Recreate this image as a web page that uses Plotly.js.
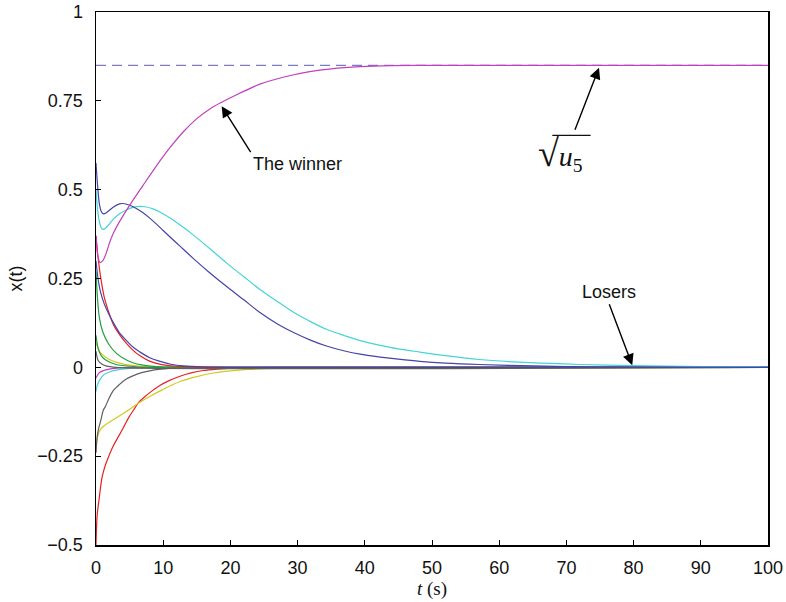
<!DOCTYPE html>
<html>
<head>
<meta charset="utf-8">
<script src="https://cdn.plot.ly/plotly-3.0.1.min.js"></script>
<style>html,body{margin:0;padding:0;background:#fff;}#chart{width:786px;height:602px;}</style>
</head>
<body>
<div id="chart"></div>
<script>
// ---- data ----
const tWinner = [0, 0.3, 0.6, 1, 1.5, 2, 2.6, 3.5, 5, 7, 9, 11, 13, 15, 17, 18.7, 21, 24.4, 28, 31.8, 35, 39.3, 44, 50, 60, 100];
const xWinner = [0.37, 0.31, 0.295, 0.30, 0.32, 0.35, 0.378, 0.41, 0.456, 0.512, 0.567, 0.618, 0.663, 0.70, 0.728, 0.746, 0.768, 0.797, 0.817, 0.832, 0.84, 0.846, 0.849, 0.85, 0.85, 0.85];

const tBlue = [0, 0.2, 0.5, 0.8, 1.1, 1.6, 2.5, 3.5, 4, 5, 6, 7, 8, 9, 10, 11.3, 12.5, 14.5, 17, 19.4, 22, 24.4, 27, 29.4, 32, 34.3, 37, 39.3, 42.3, 45, 48.2, 52, 57, 65, 75, 85, 100];
const xBlue = [0.575, 0.52, 0.46, 0.438, 0.432, 0.436, 0.45, 0.46, 0.461, 0.456, 0.447, 0.435, 0.42, 0.403, 0.385, 0.362, 0.341, 0.306, 0.265, 0.228, 0.19, 0.154, 0.122, 0.098, 0.076, 0.060, 0.046, 0.037, 0.029, 0.023, 0.017, 0.012, 0.008, 0.004, 0.001, 0.0005, 0];

const tCyan = [0, 0.2, 0.5, 0.8, 1.1, 1.6, 2.5, 3.5, 4.5, 5.5, 6.5, 7.3, 8.5, 9.5, 11.3, 13, 14.5, 17, 19.4, 22, 24.4, 27, 29.4, 32, 34.3, 37, 39.3, 42.3, 45, 48.2, 52, 57, 64.6, 72, 79.5, 90, 100];
const xCyan = [0.50, 0.45, 0.41, 0.392, 0.388, 0.395, 0.415, 0.432, 0.443, 0.45, 0.453, 0.452, 0.446, 0.437, 0.417, 0.394, 0.372, 0.333, 0.294, 0.255, 0.219, 0.185, 0.155, 0.128, 0.107, 0.089, 0.075, 0.062, 0.052, 0.043, 0.033, 0.022, 0.013, 0.008, 0.005, 0.002, 0.001];

const tRedUp = [0, 0.3, 0.64, 1.2, 1.9, 2.6, 3.4, 4.4, 5.4, 6.5, 7.8, 9, 10.8, 13, 16, 20, 100];
const xRedUp = [0.37, 0.31, 0.26, 0.20, 0.155, 0.12, 0.095, 0.07, 0.05, 0.033, 0.019, 0.011, 0.005, 0.002, 0.0005, 0, 0];

const tBlueUp = [0, 0.3, 0.7, 1.2, 1.9, 2.6, 3.4, 4.4, 5.5, 6.8, 8, 9.3, 11.3, 13, 16, 20, 100];
const xBlueUp = [0.30, 0.25, 0.21, 0.18, 0.15, 0.125, 0.10, 0.078, 0.057, 0.04, 0.027, 0.018, 0.008, 0.004, 0.001, 0, 0];

const tGreenA = [0, 0.2, 0.5, 1, 1.9, 3, 4.4, 5.5, 6.8, 9, 12, 100];
const xGreenA = [0.27, 0.20, 0.14, 0.10, 0.065, 0.04, 0.022, 0.013, 0.007, 0.002, 0, 0];

const tGreenB = [0, 0.3, 0.8, 1.5, 3, 5, 8, 100];
const xGreenB = [0.09, 0.055, 0.032, 0.02, 0.008, 0.003, 0, 0];

const tYellowUp = [0, 0.5, 1, 2, 3.5, 5, 8, 100];
const xYellowUp = [0.07, 0.045, 0.035, 0.022, 0.012, 0.006, 0.001, 0];

const tGrayUp = [0, 0.3, 0.8, 1.5, 3, 100];
const xGrayUp = [0.045, 0.02, 0.01, 0.004, 0, 0];

const tMagentaLo = [0, 0.5, 1, 2, 4, 6, 100];
const xMagentaLo = [-0.03, -0.015, -0.01, -0.005, -0.001, 0, 0];

const tCyanLo = [0, 0.2, 0.6, 1.2, 2, 3, 5, 8, 100];
const xCyanLo = [-0.068, -0.05, -0.034, -0.02, -0.013, -0.008, -0.003, 0, 0];

const tGrayLo = [0, 0.15, 0.35, 0.64, 1.1, 1.4, 2, 2.6, 3.5, 4.4, 5.5, 6.8, 8, 9.3, 11, 14, 18, 100];
const xGrayLo = [-0.24, -0.2, -0.175, -0.155, -0.12, -0.11, -0.085, -0.065, -0.048, -0.034, -0.024, -0.015, -0.01, -0.006, -0.003, -0.001, 0, 0];

const tYellowLo = [0, 0.1, 0.4, 0.85, 1.5, 2.6, 3.8, 5, 6.3, 8, 10, 12.5, 15, 17.5, 20, 22.5, 25, 30, 35, 45, 100];
const xYellowLo = [-0.24, -0.21, -0.185, -0.17, -0.16, -0.147, -0.133, -0.118, -0.101, -0.082, -0.062, -0.04, -0.026, -0.016, -0.010, -0.006, -0.004, -0.0015, -0.0005, 0, 0];

const tRedLo = [0, 0.1, 0.2, 0.4, 0.9, 1.4, 1.9, 2.6, 3.4, 4.2, 4.9, 5.6, 6.3, 7.3, 8.3, 9.5, 10.8, 12.5, 14.3, 16, 18, 20, 23, 28, 100];
const xRedLo = [-0.5, -0.44, -0.41, -0.38, -0.31, -0.275, -0.25, -0.22, -0.193, -0.165, -0.14, -0.12, -0.1, -0.082, -0.067, -0.051, -0.038, -0.025, -0.015, -0.009, -0.005, -0.002, -0.0005, 0, 0];

const tLimit = [0, 100];
const xLimit = [0.85, 0.85];

const yTickVals = [-0.5, -0.25, 0, 0.25, 0.5, 0.75, 1];
const yTickText = ['\u22120.5', '\u22120.25', '0', '0.25', '0.5', '0.75', '1'];
const xTickVals = [0, 10, 20, 30, 40, 50, 60, 70, 80, 90, 100];

// ---- colours ----
const C = {
  magenta: '#c040c0', blue: '#4444aa', cyan: '#44d4d4', red: '#e82020',
  green: '#20a040', yellow: '#d4c820', gray: '#606060', dash: '#5a5ab4'
};

function line(t, x, color, extra) {
  return Object.assign({
    x: t, y: x, type: 'scatter', mode: 'lines', hoverinfo: 'skip',
    line: {color: color, width: 1.2, shape: 'spline', smoothing: 0.8}
  }, extra || {});
}

const traces = [
  line(tLimit, xLimit, C.dash, {line: {color: C.dash, width: 1, dash: '10px,6px'}}),
  line(tRedLo, xRedLo, C.red),
  line(tYellowLo, xYellowLo, C.yellow),
  line(tGrayLo, xGrayLo, C.gray),
  line(tCyanLo, xCyanLo, C.cyan),
  line(tMagentaLo, xMagentaLo, C.magenta),
  line(tYellowUp, xYellowUp, C.yellow),
  line(tGreenB, xGreenB, C.green),
  line(tGreenA, xGreenA, C.green),
  line(tRedUp, xRedUp, C.red),
  line(tBlueUp, xBlueUp, C.blue),
  line(tGrayUp, xGrayUp, C.gray),
  line(tCyan, xCyan, C.cyan),
  line(tBlue, xBlue, C.blue),
  line(tWinner, xWinner, C.magenta)
];

const font = {family: '"Liberation Sans", Arial, Helvetica, sans-serif', size: 18, color: '#111'};
const serif = {family: '"Liberation Serif", "Times New Roman", serif', size: 28, color: '#111'};
const arrow = {showarrow: true, arrowhead: 2, arrowsize: 1.6, arrowwidth: 1.4, arrowcolor: '#000', xref: 'x', yref: 'y'};

const layout = {
  width: 786, height: 602,
  margin: {l: 96, r: 18, t: 12, b: 57, pad: 0},
  paper_bgcolor: '#fff', plot_bgcolor: '#fff',
  showlegend: false,
  font: font,
  xaxis: {
    range: [0, 100], tickvals: xTickVals, ticks: 'inside', ticklen: 5, tickwidth: 1, tickcolor: '#000',
    showline: true, linecolor: '#000', linewidth: 1.5, mirror: true, showgrid: false, zeroline: false,
    ticklabelstandoff: 6,
    title: {text: '<i>t</i> (s)', font: {family: '"Liberation Serif", "Times New Roman", serif', size: 19, color: '#111'}, standoff: 4}
  },
  yaxis: {
    range: [-0.5, 1], tickvals: yTickVals, ticktext: yTickText, ticks: 'inside', ticklen: 5, tickwidth: 1, tickcolor: '#000',
    showline: true, linecolor: '#000', linewidth: 1.5, mirror: true, showgrid: false, zeroline: false,
    ticklabelstandoff: 8,
    title: {text: 'x(t)', font: font, standoff: 10}
  },
  annotations: [
    Object.assign({x: 18.7, y: 0.735, ax: 29, ay: 46, text: 'The winner', font: font,
      xanchor: 'left', yanchor: 'top'}, arrow),
    Object.assign({x: 79.8, y: 0.006, ax: -23, ay: -61, text: 'Losers', font: font,
      xanchor: 'center', yanchor: 'bottom'}, arrow),
    Object.assign({x: 74.85, y: 0.843, ax: -24, ay: 62,
      text: '<span style="font-size:38px">\u221A</span><i>u</i><sub>5</sub>\u00A0\u00A0\u00A0\u00A0',
      font: serif, xanchor: 'center', yanchor: 'top'}, arrow)
  ],
  // vinculum of the square root sign
  shapes: [
    {type: 'line', xref: 'x', yref: 'y', x0: 67.9, x1: 73.6, y0: 0.6526, y1: 0.6526,
     line: {color: '#111', width: 1.3}}
  ]
};

Plotly.newPlot('chart', traces, layout, {staticPlot: true, displayModeBar: false});
</script>
</body>
</html>
